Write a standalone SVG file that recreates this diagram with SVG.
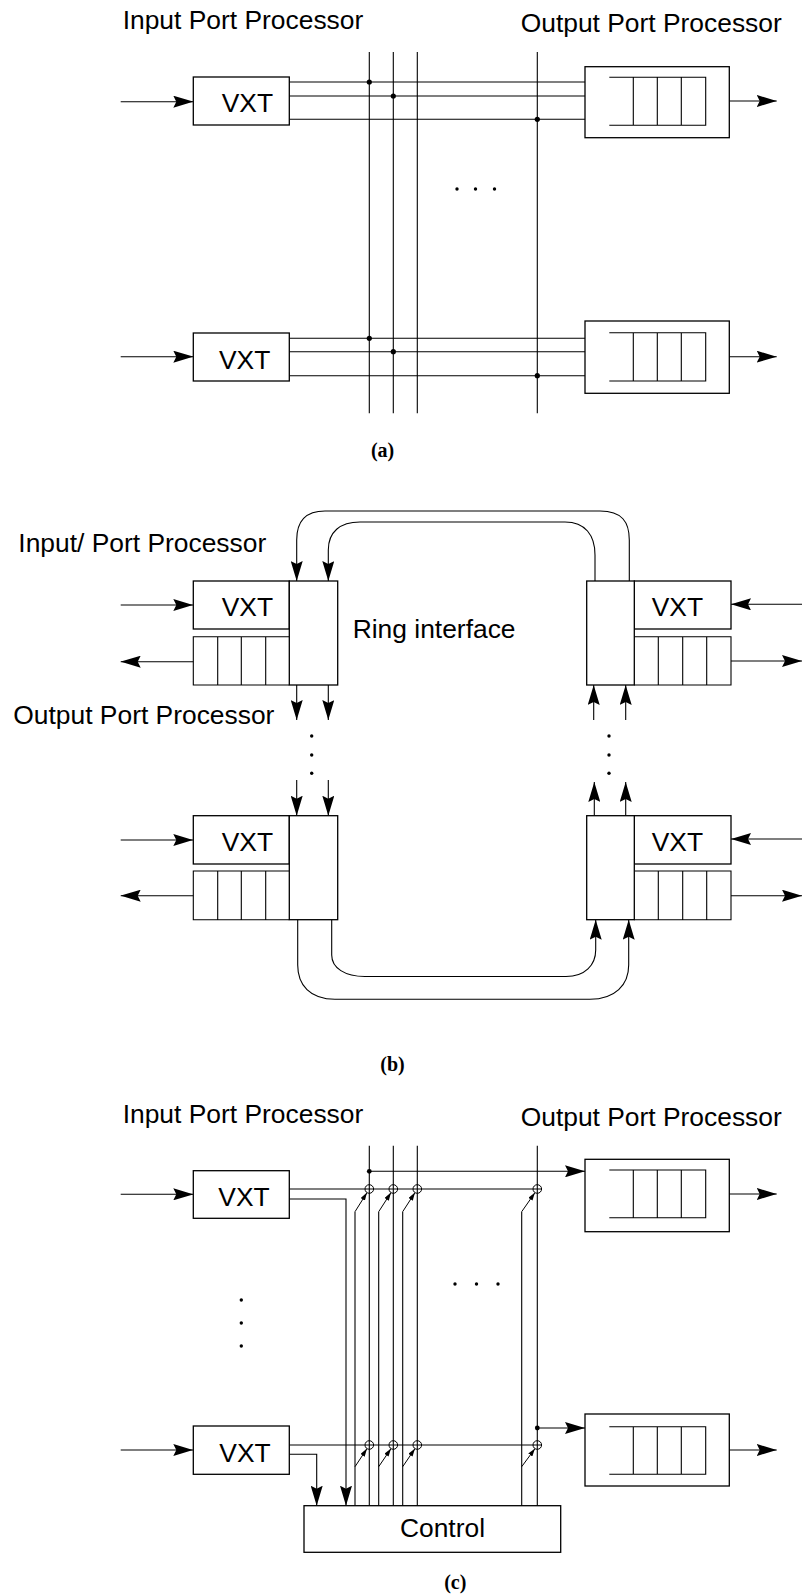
<svg xmlns="http://www.w3.org/2000/svg" width="806" height="1596" viewBox="0 0 806 1596">
<style>
.lbl{font-family:"Liberation Sans",Arial,sans-serif;font-size:26.4px;fill:#000}
.cap{font-family:"Liberation Serif","Times New Roman",serif;font-weight:bold;font-size:20px;text-anchor:middle;fill:#000}
.box{fill:#fff;stroke:#000;stroke-width:1.3}
.ln{fill:none;stroke:#000;stroke-width:1.1}
.ar{fill:none;stroke:#000;stroke-width:1.1;marker-end:url(#ah)}
.sa{fill:none;stroke:#000;stroke-width:1;marker-end:url(#sm)}
.dot{fill:#000}
.xc{fill:none;stroke:#000;stroke-width:1}
</style>
<defs>
<marker id="ah" viewBox="0 0 20 12" refX="20" refY="6" markerWidth="20" markerHeight="12" orient="auto" markerUnits="userSpaceOnUse"><path d="M0,0 L20,6 L0,12 L3,6 z" fill="#000"/></marker>
<marker id="sm" viewBox="0 0 8 5" refX="8" refY="2.5" markerWidth="8" markerHeight="5" orient="auto" markerUnits="userSpaceOnUse"><path d="M0,0 L8,2.5 L0,5 z" fill="#000"/></marker>
</defs>
<rect width="806" height="1596" fill="#fff"/>

<!-- ===== (a) ===== -->
<g id="a-labels">
<text class="lbl" x="122.7" y="29">Input Port Processor</text>
<text class="lbl" x="520.7" y="32">Output Port Processor</text>
<text class="cap" x="382.6" y="457">(a)</text>
</g>
<g id="a-connectors">
<line class="ar" x1="120.7" y1="101.7" x2="193.3" y2="101.7"/>
<line class="ar" x1="120.7" y1="356.7" x2="193.3" y2="356.7"/>
<line class="ln" x1="289.3" y1="82" x2="585" y2="82"/>
<line class="ln" x1="289.3" y1="96" x2="585" y2="96"/>
<line class="ln" x1="289.3" y1="119.3" x2="585" y2="119.3"/>
<line class="ln" x1="289.3" y1="338.3" x2="585" y2="338.3"/>
<line class="ln" x1="289.3" y1="351.7" x2="585" y2="351.7"/>
<line class="ln" x1="289.3" y1="375.7" x2="585" y2="375.7"/>
<line class="ln" x1="369.3" y1="52" x2="369.3" y2="413.3"/>
<line class="ln" x1="393.3" y1="52" x2="393.3" y2="413.3"/>
<line class="ln" x1="417.3" y1="52" x2="417.3" y2="413.3"/>
<line class="ln" x1="537.3" y1="52" x2="537.3" y2="413.3"/>
<circle class="dot" cx="369.3" cy="82" r="2.6"/>
<circle class="dot" cx="393.3" cy="96" r="2.6"/>
<circle class="dot" cx="537.3" cy="119.3" r="2.6"/>
<circle class="dot" cx="369.3" cy="338.3" r="2.6"/>
<circle class="dot" cx="393.3" cy="351.7" r="2.6"/>
<circle class="dot" cx="537.3" cy="375.7" r="2.6"/>
<circle class="dot" cx="457" cy="189" r="1.7"/>
<circle class="dot" cx="475.5" cy="189" r="1.7"/>
<circle class="dot" cx="494.5" cy="189" r="1.7"/>
<line class="ar" x1="705.7" y1="101" x2="776.7" y2="101"/>
<line class="ar" x1="705.7" y1="356.7" x2="776.7" y2="356.7"/>
</g>
<g id="a-vxt1"><rect class="box" x="193.3" y="77" width="96" height="48"/><text class="lbl" x="221.7" y="111.7">VXT</text></g>
<g id="a-vxt2"><rect class="box" x="193.3" y="333" width="96" height="48"/><text class="lbl" x="219" y="368.5">VXT</text></g>
<g id="a-opp1">
<rect class="box" x="585" y="66.7" width="144.3" height="71"/>
<path class="ln" d="M609.3,77.3 H705.7 V125.3 H609.3 M633.3,77.3 V125.3 M657.3,77.3 V125.3 M681.3,77.3 V125.3"/>
</g>
<g id="a-opp2">
<rect class="box" x="585" y="321" width="144.3" height="72.3"/>
<path class="ln" d="M609.3,332.7 H705.7 V381 H609.3 M633.3,332.7 V381 M657.3,332.7 V381 M681.3,332.7 V381"/>
</g>

<!-- ===== (b) ===== -->
<g id="b-labels">
<text class="lbl" x="18.3" y="551.7">Input/ Port Processor</text>
<text class="lbl" x="13.3" y="724">Output Port Processor</text>
<text class="lbl" x="352.7" y="638">Ring interface</text>
<text class="cap" x="392.5" y="1071">(b)</text>
</g>
<g id="b-connectors">
<path class="ar" d="M629.3,581 V540 C629.3,522 622,511 600,511 H325 C305,511 296.7,522 296.7,540 V581"/>
<path class="ar" d="M595,581 V555 C595,535 585,522 565,522 H360 C340,522 328.3,532 328.3,550 V581"/>
<path class="ar" d="M297.7,919.7 V965 C297.7,985 310,999.3 335,999.3 H590 C615,999.3 628.7,985 628.7,965 V919.7"/>
<path class="ar" d="M331.7,919.7 V955 C331.7,968 345,976.5 365,976.5 H566 C585,976.5 595.7,965 595.7,950 V919.7"/>
<line class="ar" x1="120.7" y1="605" x2="193.3" y2="605"/>
<line class="ar" x1="193.3" y1="661.7" x2="120.7" y2="661.7"/>
<line class="ar" x1="802" y1="604.3" x2="731" y2="604.3"/>
<line class="ar" x1="731" y1="661" x2="802" y2="661"/>
<line class="ar" x1="120.7" y1="840" x2="193.3" y2="840"/>
<line class="ar" x1="193.3" y1="895.7" x2="120.7" y2="895.7"/>
<line class="ar" x1="802" y1="839" x2="731" y2="839"/>
<line class="ar" x1="731" y1="895.7" x2="802" y2="895.7"/>
<line class="ar" x1="296.7" y1="685" x2="296.7" y2="720"/>
<line class="ar" x1="328.3" y1="685" x2="328.3" y2="720"/>
<line class="ar" x1="296.7" y1="780" x2="296.7" y2="815.7"/>
<line class="ar" x1="328.3" y1="780" x2="328.3" y2="815.7"/>
<line class="ar" x1="593.7" y1="720" x2="593.7" y2="685"/>
<line class="ar" x1="625.7" y1="720" x2="625.7" y2="685"/>
<line class="ar" x1="594.3" y1="815.7" x2="594.3" y2="782"/>
<line class="ar" x1="625.7" y1="815.7" x2="625.7" y2="782"/>
<circle class="dot" cx="311.7" cy="736" r="1.7"/>
<circle class="dot" cx="311.7" cy="755" r="1.7"/>
<circle class="dot" cx="311.7" cy="773.3" r="1.7"/>
<circle class="dot" cx="609" cy="736" r="1.7"/>
<circle class="dot" cx="609" cy="755" r="1.7"/>
<circle class="dot" cx="609" cy="773.3" r="1.7"/>
</g>
<g id="b-left1">
<rect class="box" x="193.3" y="581" width="96" height="48"/><text class="lbl" x="221.7" y="616">VXT</text>
<path class="ln" d="M289.3,636.7 H193.3 V685 H289.3 M217.7,636.7 V685 M241.3,636.7 V685 M265.7,636.7 V685"/>
<rect class="box" x="289.3" y="581" width="48.4" height="104"/>
</g>
<g id="b-right1">
<rect class="box" x="634.3" y="581" width="96.7" height="48"/><text class="lbl" x="651.7" y="616">VXT</text>
<path class="ln" d="M634.3,636.7 H731 V685 H634.3 M658.3,636.7 V685 M682.7,636.7 V685 M706.7,636.7 V685"/>
<rect class="box" x="586.7" y="581" width="47.6" height="104"/>
</g>
<g id="b-left2">
<rect class="box" x="193.3" y="815.7" width="96" height="48.3"/><text class="lbl" x="221.7" y="851">VXT</text>
<path class="ln" d="M289.3,871 H193.3 V919.7 H289.3 M217.7,871 V919.7 M241.3,871 V919.7 M265.7,871 V919.7"/>
<rect class="box" x="289.3" y="815.7" width="48.4" height="104"/>
</g>
<g id="b-right2">
<rect class="box" x="634.3" y="815.7" width="96.7" height="48.3"/><text class="lbl" x="651.7" y="851">VXT</text>
<path class="ln" d="M634.3,871 H731 V919.7 H634.3 M658.3,871 V919.7 M682.7,871 V919.7 M706.7,871 V919.7"/>
<rect class="box" x="586.7" y="815.7" width="47.6" height="104"/>
</g>

<!-- ===== (c) ===== -->
<g id="c-labels">
<text class="lbl" x="122.7" y="1123">Input Port Processor</text>
<text class="lbl" x="520.7" y="1126">Output Port Processor</text>
<text class="cap" x="455.3" y="1589">(c)</text>
</g>
<g id="c-connectors">
<line class="ar" x1="120.7" y1="1194.3" x2="193.3" y2="1194.3"/>
<line class="ar" x1="120.7" y1="1450" x2="193.3" y2="1450"/>
<line class="ln" x1="369.3" y1="1145.7" x2="369.3" y2="1505.7"/>
<line class="ln" x1="393.3" y1="1145.7" x2="393.3" y2="1505.7"/>
<line class="ln" x1="417.3" y1="1145.7" x2="417.3" y2="1505.7"/>
<line class="ln" x1="537.3" y1="1145.7" x2="537.3" y2="1505.7"/>
<line class="ln" x1="289.3" y1="1189" x2="541.6" y2="1189"/>
<line class="ln" x1="289.3" y1="1445" x2="541.6" y2="1445"/>
<line class="ar" x1="369.3" y1="1171.3" x2="585" y2="1171.3"/>
<line class="ar" x1="537.3" y1="1428" x2="585" y2="1428"/>
<circle class="dot" cx="369.3" cy="1171.3" r="2.4"/>
<circle class="dot" cx="537.3" cy="1428" r="2.4"/>
<path class="ar" d="M289.3,1199 H346 V1505.7"/>
<path class="ar" d="M289.3,1454.3 H316.7 V1505.7"/>
<line class="ln" x1="355" y1="1211.7" x2="355" y2="1505.7"/>
<line class="ln" x1="378.7" y1="1211.7" x2="378.7" y2="1505.7"/>
<line class="ln" x1="402.7" y1="1211.7" x2="402.7" y2="1505.7"/>
<line class="ln" x1="521.7" y1="1211.7" x2="521.7" y2="1505.7"/>
<line class="sa" x1="355" y1="1211.7" x2="367" y2="1192.6"/>
<line class="sa" x1="378.7" y1="1211.7" x2="391" y2="1192.6"/>
<line class="sa" x1="402.7" y1="1211.7" x2="415" y2="1192.6"/>
<line class="sa" x1="521.7" y1="1211.7" x2="535" y2="1192.6"/>
<line class="sa" x1="355" y1="1466.7" x2="367" y2="1448.6"/>
<line class="sa" x1="378.7" y1="1466.7" x2="391" y2="1448.6"/>
<line class="sa" x1="402.7" y1="1466.7" x2="415" y2="1448.6"/>
<line class="sa" x1="521.7" y1="1466.7" x2="535" y2="1448.6"/>
<circle class="xc" cx="369.3" cy="1189" r="4.3"/>
<circle class="xc" cx="393.3" cy="1189" r="4.3"/>
<circle class="xc" cx="417.3" cy="1189" r="4.3"/>
<circle class="xc" cx="537.3" cy="1189" r="4.3"/>
<circle class="xc" cx="369.3" cy="1445" r="4.3"/>
<circle class="xc" cx="393.3" cy="1445" r="4.3"/>
<circle class="xc" cx="417.3" cy="1445" r="4.3"/>
<circle class="xc" cx="537.3" cy="1445" r="4.3"/>
<line class="ar" x1="705.7" y1="1194" x2="776.7" y2="1194"/>
<line class="ar" x1="705.7" y1="1450" x2="776.7" y2="1450"/>
<circle class="dot" cx="455" cy="1284" r="1.7"/>
<circle class="dot" cx="476.5" cy="1284" r="1.7"/>
<circle class="dot" cx="498" cy="1284" r="1.7"/>
<circle class="dot" cx="241.3" cy="1300" r="1.7"/>
<circle class="dot" cx="241.3" cy="1323" r="1.7"/>
<circle class="dot" cx="241.3" cy="1346" r="1.7"/>
</g>
<g id="c-vxt1"><rect class="box" x="193.3" y="1170.7" width="96" height="47.6"/><text class="lbl" x="218.3" y="1206">VXT</text></g>
<g id="c-vxt2"><rect class="box" x="193.3" y="1426" width="96" height="48.3"/><text class="lbl" x="219.3" y="1461.7">VXT</text></g>
<g id="c-opp1">
<rect class="box" x="585" y="1159.3" width="144.3" height="72.4"/>
<path class="ln" d="M609.3,1170 H705.7 V1217.7 H609.3 M633.3,1170 V1217.7 M657.3,1170 V1217.7 M681.3,1170 V1217.7"/>
</g>
<g id="c-opp2">
<rect class="box" x="585" y="1414" width="144.3" height="72"/>
<path class="ln" d="M609.3,1426.7 H705.7 V1474.3 H609.3 M633.3,1426.7 V1474.3 M657.3,1426.7 V1474.3 M681.3,1426.7 V1474.3"/>
</g>
<g id="c-control">
<rect class="box" x="304" y="1505.7" width="256.7" height="46.6"/>
<text class="lbl" x="442.5" y="1537.3" text-anchor="middle">Control</text>
</g>
</svg>
